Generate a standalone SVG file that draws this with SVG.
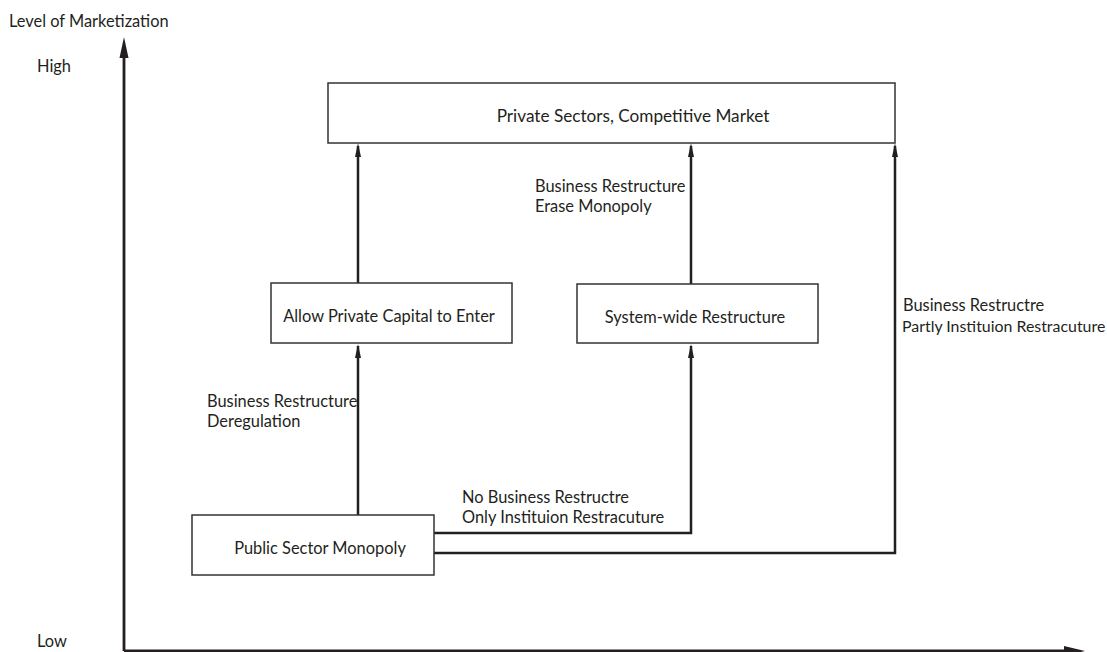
<svg xmlns="http://www.w3.org/2000/svg" width="1107" height="652" viewBox="0 0 1107 652">
<style>
text{font-family:Lato,"Liberation Sans",sans-serif;font-size:16.4px;fill:#231f20}
.box{fill:#fff;stroke:#333;stroke-width:1.5}
.conn{fill:none;stroke:#231f20;stroke-width:2.5}
.axis{fill:none;stroke:#231f20;stroke-width:2.8}
.edge{font-size:15.9px}
</style>
<rect width="1107" height="652" fill="#fff"/>
<g id="axes">
<line class="axis" x1="124" y1="651" x2="124" y2="55"/>
<path d="M124 37 L128.5 58 L119.5 58 Z" fill="#231f20"/>
<line class="axis" x1="124" y1="651" x2="1066" y2="651"/>
<path d="M1085 651 L1064 646 L1064 656 Z" fill="#231f20"/>
<text x="9" y="27">Level of Marketization</text>
<text x="37" y="72">High</text>
<text x="37" y="647">Low</text>
</g>
<g id="connectors">
<path class="conn" d="M358 283 V146"/>
<path class="conn" d="M691 284 V146"/>
<path class="conn" d="M358 515 V346"/>
<path class="conn" d="M434 533 H691 V346"/>
<path class="conn" d="M434 553 H895 V146"/>
<polygon points="358,143 361,157 355,157" fill="#231f20"/>
<polygon points="691,143 694,157 688,157" fill="#231f20"/>
<polygon points="895,143 898,157 892,157" fill="#231f20"/>
<polygon points="358,344 361,358 355,358" fill="#231f20"/>
<polygon points="691,344 694,358 688,358" fill="#231f20"/>
<text x="535" y="192">Business Restructure</text>
<text x="535" y="212">Erase Monopoly</text>
<text x="207" y="407">Business Restructure</text>
<text x="207" y="427">Deregulation</text>
<text x="462" y="503">No Business Restructre</text>
<text x="462" y="523">Only Instituion Restracuture</text>
<text x="903" y="311">Business Restructre</text>
<text class="edge" x="902" y="332">Partly Instituion Restracuture</text>
</g>
<g id="node-private">
<rect class="box" x="328" y="83" width="567" height="60"/>
<text x="633" y="122" text-anchor="middle" style="font-size:17.2px">Private Sectors, Competitive Market</text>
</g>
<g id="node-allow">
<rect class="box" x="271" y="283" width="241" height="60"/>
<text x="389" y="322" text-anchor="middle">Allow Private Capital to Enter</text>
</g>
<g id="node-system">
<rect class="box" x="577" y="284" width="241" height="59"/>
<text x="695" y="323" text-anchor="middle">System-wide Restructure</text>
</g>
<g id="node-public">
<rect class="box" x="192" y="515" width="242" height="60"/>
<text x="320" y="554" text-anchor="middle">Public Sector Monopoly</text>
</g>
</svg>
